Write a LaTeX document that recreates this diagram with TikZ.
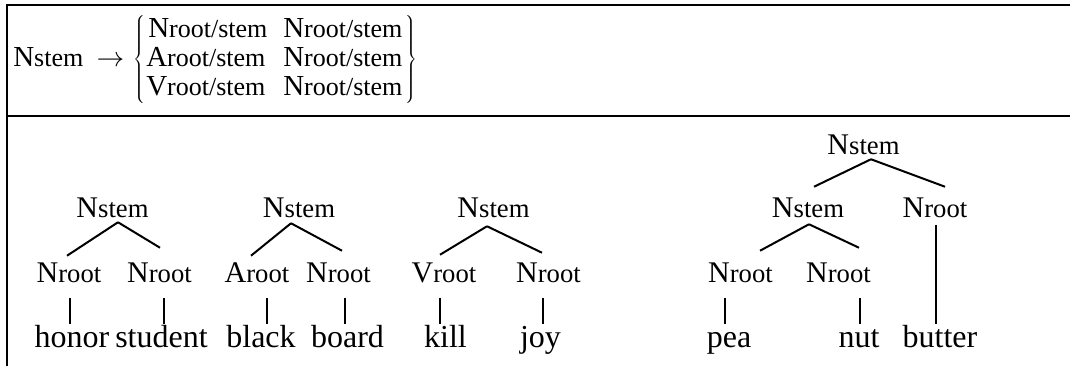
\documentclass[tikz,border=0pt]{standalone}
\usepackage{fontspec}
\setmainfont{Liberation Serif}
\usetikzlibrary{calc}
% category labels: capital letter slightly larger than the rest
\newcommand\catlbl[2]{{\fontsize{22.5pt}{24pt}\selectfont #1}{\fontsize{20pt}{24pt}\selectfont #2}}
\newcommand\rulelbl[2]{{\fontsize{21.75pt}{24pt}\selectfont #1}{\fontsize{19.5pt}{24pt}\selectfont #2}}
\newcommand\wordlbl[1]{{\fontsize{24pt}{26pt}\selectfont #1}}
\newcommand\bigbrace[1]{$\nulldelimiterspace=0pt\left#1\vrule height 33pt depth 33pt width 0pt\right.$}
\begin{document}
\begin{tikzpicture}[x=0.75pt,y=-0.75pt,
  lbl/.style={inner sep=0pt, anchor=base, text height=15pt, text depth=0pt},
  word/.style={inner sep=0pt, anchor=base, text height=16.4pt},
  rl/.style={inner sep=0pt, anchor=base west},
  frame/.style={line width=1.9pt},
  branch/.style={line width=1.5pt},
  bar/.style={line width=0.8pt, shorten <=11pt, shorten >=1.5pt},
  trunk/.style={line width=1.5pt, shorten <=5pt, shorten >=1.5pt}]
\useasboundingbox (0,0) rectangle (1070,366);

% table frame
\draw[frame] (1070,5) -- (7,5) -- (7,366);
\draw[frame] (7,116) -- (1070,116);

% rewrite rule
\node[rl] (lhs) at (13,67) {\rulelbl{N}{stem}\hspace{10pt}{\fontsize{21pt}{21pt}\selectfont$\rightarrow$}};
\node[inner sep=0pt] (lb) at (139,61) {\bigbrace\{};
\node[inner sep=0pt] (rb) at (411,61) {\bigbrace\}};
\node[rl] (r1a) at (148,38) {\rulelbl{N}{root/stem}};
\node[rl] (r1b) at (283,38) {\rulelbl{N}{root/stem}};
\node[rl] (r2a) at (146,67) {\rulelbl{A}{root/stem}};
\node[rl] (r2b) at (283,67) {\rulelbl{N}{root/stem}};
\node[rl] (r3a) at (146,96) {\rulelbl{V}{root/stem}};
\node[rl] (r3b) at (283,96) {\rulelbl{N}{root/stem}};

% honor student
\node[lbl] (s1) at (112.5,218) {\catlbl{N}{stem}};
\node[lbl] (a1) at (69,283) {\catlbl{N}{root}};
\node[lbl] (b1) at (159.5,283) {\catlbl{N}{root}};
\node[word] (wa1) at (72,348) {\wordlbl{honor}};
\node[word] (wb1) at (161.5,348) {\wordlbl{student}};
\draw[branch] ($(s1.south)+(5.5,4)$) -- ($(a1.north)+(-2,-7)$);
\draw[branch] ($(s1.south)+(5.5,4)$) -- ($(b1.north)+(0.5,-15)$);
\draw[bar] ($(wa1.north |- a1.south)+(-2,0)$) -- ($(wa1.north)+(-2,0)$);
\draw[bar] ($(wb1.north |- b1.south)+(2.5,0)$) -- ($(wb1.north)+(2.5,0)$);

% black board
\node[lbl] (s2) at (299,218) {\catlbl{N}{stem}};
\node[lbl] (a2) at (257,283) {\catlbl{A}{root}};
\node[lbl] (b2) at (338.5,283) {\catlbl{N}{root}};
\node[word] (wa2) at (261,348) {\wordlbl{black}};
\node[word] (wb2) at (347.5,348) {\wordlbl{board}};
\draw[branch] ($(s2.south)+(-8,5)$) -- ($(a2.north)+(-6,-7)$);
\draw[branch] ($(s2.south)+(-8,5)$) -- ($(b2.north)+(3.5,-12)$);
\draw[bar] ($(wa2.north |- a2.south)+(6,0)$) -- ($(wa2.north)+(6,0)$);
\draw[bar] ($(wb2.north |- b2.south)+(-2.5,0)$) -- ($(wb2.north)+(-2.5,0)$);

% kill joy
\node[lbl] (s3) at (493.5,218) {\catlbl{N}{stem}};
\node[lbl] (a3) at (444,283) {\catlbl{V}{root}};
\node[lbl] (b3) at (548.5,283) {\catlbl{N}{root}};
\node[word] (wa3) at (445.5,348) {\wordlbl{kill}};
\node[word] (wb3) at (540.5,348) {\wordlbl{joy}};
\draw[branch] ($(s3.south)+(-6.5,8)$) -- ($(a3.north)+(-4,-8)$);
\draw[branch] ($(s3.south)+(-6.5,8)$) -- ($(b3.north)+(-6.5,-10)$);
\draw[bar] ($(wa3.north |- a3.south)+(-5.5,0)$) -- ($(wa3.north)+(-5.5,0)$);
\draw[bar] ($(wb3.north |- b3.south)+(2.5,0)$) -- ($(wb3.north)+(2.5,0)$);

% pea nut butter
\node[lbl] (s4) at (863.5,155) {\catlbl{N}{stem}};
\node[lbl] (s5) at (808,218) {\catlbl{N}{stem}};
\node[lbl] (c4) at (935,218) {\catlbl{N}{root}};
\node[lbl] (a4) at (740.5,283) {\catlbl{N}{root}};
\node[lbl] (b4) at (838.5,283) {\catlbl{N}{root}};
\node[word] (wa4) at (729,348) {\wordlbl{pea}};
\node[word] (wb4) at (859,348) {\wordlbl{nut}};
\node[word] (wc4) at (940,348) {\wordlbl{butter}};
\draw[branch] ($(s4.south)+(7.5,4)$) -- ($(s5.north)+(6,-11)$);
\draw[branch] ($(s4.south)+(7.5,4)$) -- ($(c4.north)+(10,-11)$);
\draw[branch] ($(s5.south)+(1,6)$) -- ($(a4.north)+(19.5,-12)$);
\draw[branch] ($(s5.south)+(1,6)$) -- ($(b4.north)+(20.5,-15)$);
\draw[bar] ($(wa4.north |- a4.south)+(-4,0)$) -- ($(wa4.north)+(-4,0)$);
\draw[bar] ($(wb4.north |- b4.south)+(1,0)$) -- ($(wb4.north)+(1,0)$);
\draw[trunk] ($(c4.south)+(1,0)$) -- ($(c4.south |- wc4.north)+(1,0)$);
\end{tikzpicture}
\end{document}
